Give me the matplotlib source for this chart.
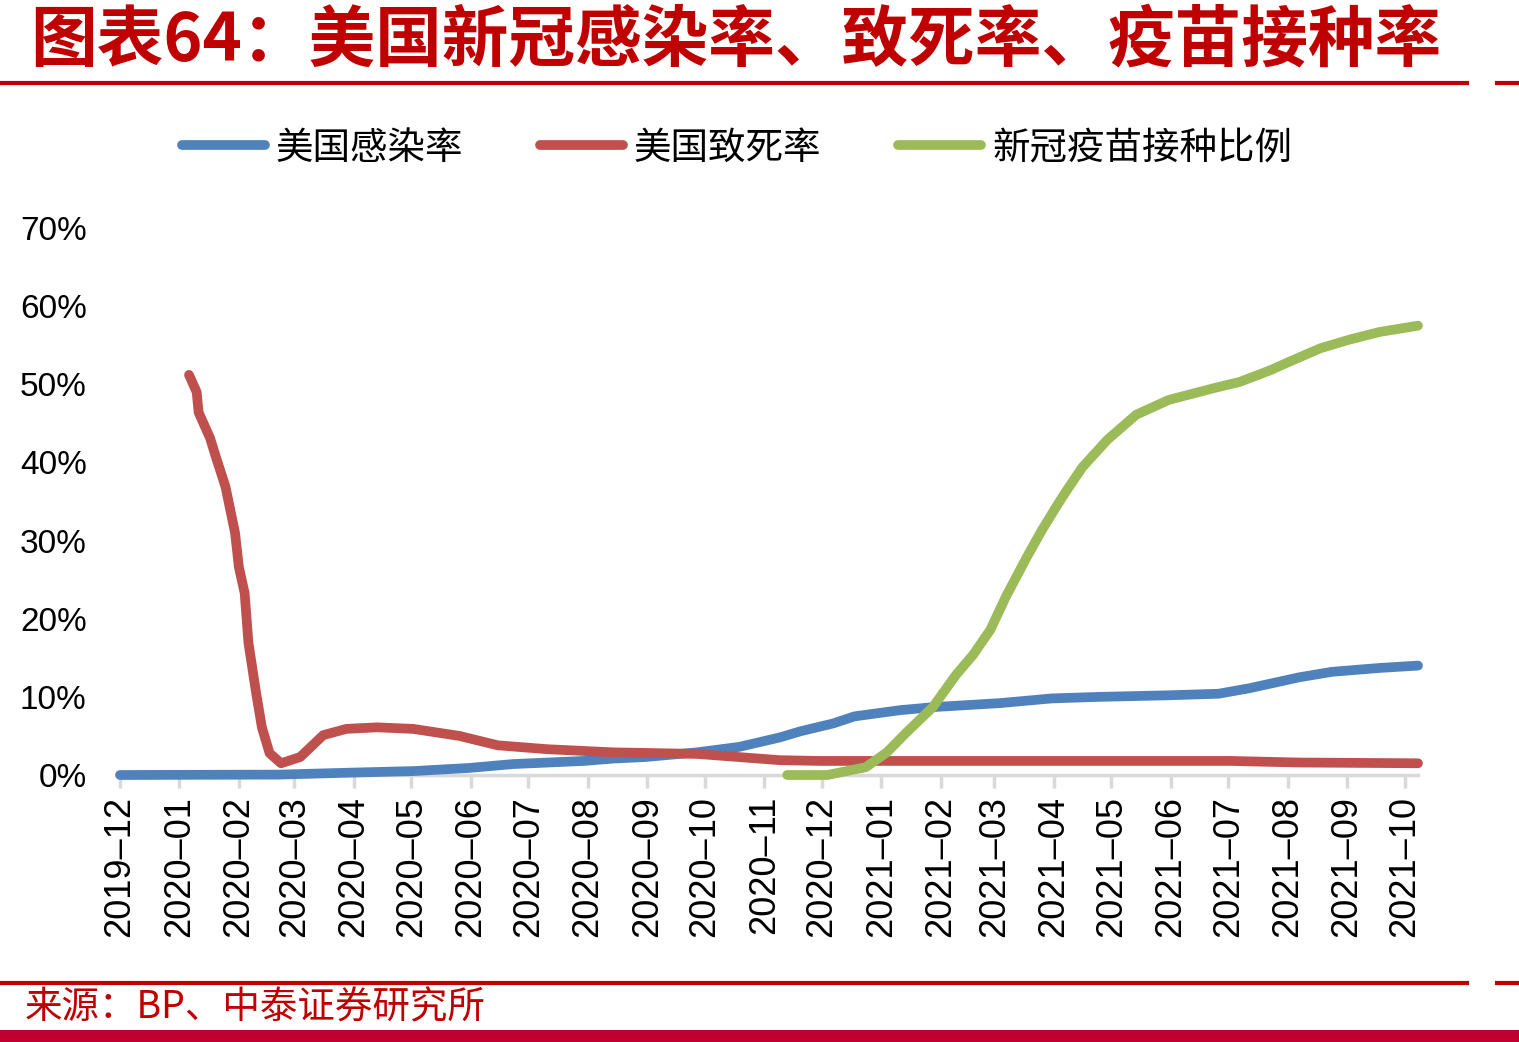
import matplotlib
matplotlib.use("Agg")
import matplotlib.pyplot as plt
import matplotlib.dates as mdates
from matplotlib.lines import Line2D
from matplotlib.patches import Rectangle
from matplotlib.ticker import MultipleLocator, FuncFormatter
import pandas as pd

plt.rcParams['font.family'] = ['Noto Sans CJK SC', 'DejaVu Sans']

# 美国感染率 (%)
infect_dates = ['2019-12-01', '2020-02-22', '2020-03-30', '2020-05-02', '2020-05-31',
                '2020-06-23', '2020-07-30', '2020-08-14', '2020-08-31', '2020-09-27',
                '2020-10-19', '2020-11-09', '2020-11-20', '2020-12-07', '2020-12-18',
                '2021-01-11', '2021-01-29', '2021-03-04', '2021-03-31', '2021-04-25',
                '2021-05-31', '2021-06-26', '2021-07-12', '2021-08-07', '2021-08-24',
                '2021-09-18', '2021-10-08']
infect_rate = [0.0, 0.05, 0.3, 0.5, 0.9,
               1.4, 1.8, 2.1, 2.3, 2.9,
               3.6, 4.8, 5.6, 6.6, 7.5,
               8.3, 8.7, 9.2, 9.8, 10.0,
               10.2, 10.4, 11.1, 12.5, 13.2,
               13.7, 14.0]

# 美国致死率 (%)
death_dates = ['2020-01-06', '2020-01-10', '2020-01-11', '2020-01-17', '2020-01-20',
               '2020-01-25', '2020-01-30', '2020-02-01', '2020-02-04', '2020-02-06',
               '2020-02-10', '2020-02-13', '2020-02-17', '2020-02-23', '2020-03-04',
               '2020-03-16', '2020-03-28', '2020-04-13', '2020-05-02', '2020-05-26',
               '2020-06-15', '2020-07-11', '2020-08-14', '2020-09-27', '2020-11-09',
               '2020-11-30', '2021-07-02', '2021-08-07', '2021-10-08']
death_rate = [51.2, 49.0, 46.4, 43.1, 40.7,
              36.9, 31.0, 26.6, 23.3, 16.9,
              10.5, 6.1, 2.8, 1.5, 2.3,
              5.1, 5.9, 6.1, 5.9, 5.0,
              3.8, 3.3, 2.9, 2.7, 1.9,
              1.8, 1.8, 1.6, 1.5]

# 新冠疫苗接种比例 (%)
vacc_dates = ['2020-11-13', '2020-12-04', '2020-12-12', '2020-12-24', '2021-01-04',
              '2021-01-14', '2021-01-28', '2021-02-09', '2021-02-18', '2021-02-27',
              '2021-03-07', '2021-03-18', '2021-03-26', '2021-04-03', '2021-04-08',
              '2021-04-16', '2021-04-29', '2021-05-14', '2021-05-31', '2021-06-25',
              '2021-07-07', '2021-07-23', '2021-08-02', '2021-08-18', '2021-09-02',
              '2021-09-18', '2021-10-08']
vacc_rate = [0.0, 0.0, 0.4, 1.0, 2.9,
             5.4, 8.7, 12.8, 15.4, 18.6,
             22.8, 27.9, 31.4, 34.6, 36.5,
             39.4, 42.9, 46.1, 48.0, 49.6,
             50.3, 51.8, 52.9, 54.6, 55.7,
             56.7, 57.5]

labels = ['美国感染率', '美国致死率', '新冠疫苗接种比例']
colors = ['#4F81BD', '#C0504D', '#9BBB59']

title = '图表64：美国新冠感染率、致死率、疫苗接种率'
source = '来源：BP、中泰证券研究所'
red = '#C00000'

fig = plt.figure(figsize=(15.19, 10.42), dpi=100)
ax = fig.add_axes([120 / 1519, 1 - 775 / 1042, 1298 / 1519, 547 / 1042])

series = [(infect_dates, infect_rate), (death_dates, death_rate), (vacc_dates, vacc_rate)]
for (d, v), lab, c in zip(series, labels, colors):
    ax.plot(pd.to_datetime(d), v, color=c, lw=7, label=lab,
            solid_capstyle='round', solid_joinstyle='round', clip_on=False, zorder=3)

ax.set_xlim(pd.Timestamp('2019-12-01'), pd.Timestamp('2021-10-08'))
ax.set_ylim(0, 70)
ax.yaxis.set_major_locator(MultipleLocator(10))
ax.yaxis.set_major_formatter(FuncFormatter(lambda v, p: f'{v:.0f}%'))
ax.xaxis.set_major_locator(mdates.MonthLocator())
ax.xaxis.set_major_formatter(FuncFormatter(
    lambda v, p: mdates.num2date(v).strftime('%Y–%m')))

for s in ['top', 'right', 'left']:
    ax.spines[s].set_visible(False)
ax.spines['bottom'].set_color('#D9D9D9')
ax.spines['bottom'].set_linewidth(2.5)
ax.tick_params(axis='x', direction='out', length=9, width=2.5, color='#D9D9D9',
               pad=6, labelrotation=90, labelsize=26)
ax.tick_params(axis='y', length=0, pad=24, labelsize=24)
for t in ax.get_xticklabels() + ax.get_yticklabels():
    t.set_fontfamily(['Liberation Sans', 'DejaVu Sans'])

fig.legend(loc='center', bbox_to_anchor=(737 / 1519, 1 - 148 / 1042), ncol=3,
           frameon=False, fontsize=27, handlelength=2.2, handletextpad=0.3,
           columnspacing=2.05)

# title and decorations
fig.text(30 / 1519, 1 - 41 / 1042, title, color=red, fontsize=48,
         fontweight='bold', va='center', ha='left')
for yy in [83, 983]:
    fig.add_artist(Line2D([0, 1467 / 1519], [1 - yy / 1042] * 2, color=red, lw=3))
    fig.add_artist(Line2D([1497 / 1519, 1], [1 - yy / 1042] * 2, color=red, lw=3))
fig.text(25 / 1519, 1 - 1008 / 1042, source, color=red, fontsize=27,
         va='center', ha='left')
fig.add_artist(Rectangle((0, 0), 1, 12 / 1042, transform=fig.transFigure,
                         color='#C00030', lw=0))

fig.savefig('out.png', dpi=100)
